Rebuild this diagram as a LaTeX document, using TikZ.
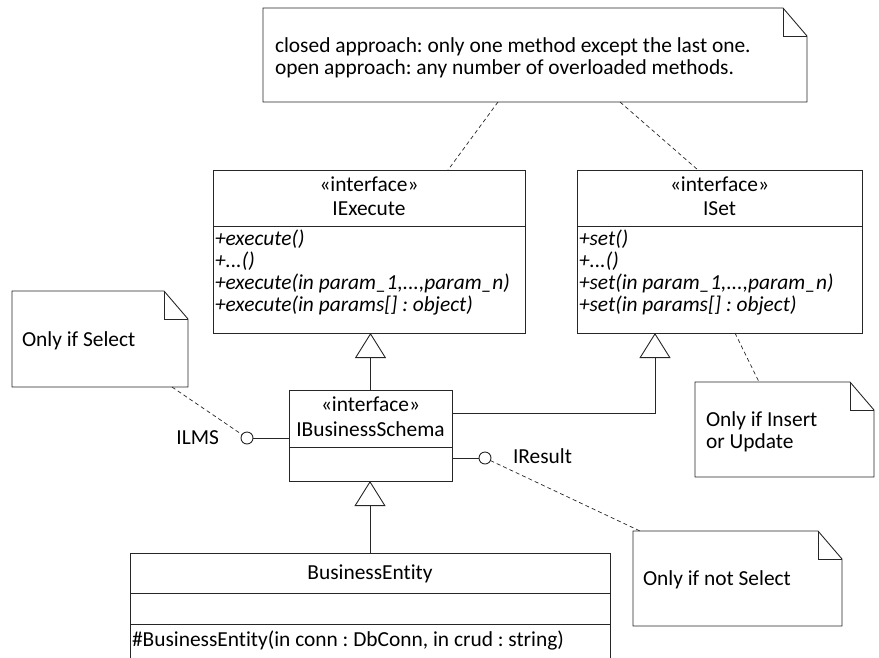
\documentclass[tikz,border=0pt]{standalone}
\usepackage{fontspec}
\setmainfont{Carlito}[Ligatures=NoCommon]
\usetikzlibrary{arrows.meta}
\frenchspacing
% folded-corner outline around a note node
\newcommand\notefold[1]{%
  \draw[line] (#1.north west) -- ([xshift=-24pt]#1.north east)
    -- ([yshift=-28pt]#1.north east) -- (#1.south east)
    -- (#1.south west) -- cycle;
  \draw[line] ([xshift=-24pt]#1.north east) |- ([yshift=-28pt]#1.north east);}
\begin{document}
\begin{tikzpicture}[x=1pt,y=-1pt,
  every node/.style={font=\fontsize{21.4}{22}\selectfont, inner sep=0pt, outer sep=0pt},
  box/.style={draw=black!85, line width=0.9pt, rectangle, anchor=north west},
  notearea/.style={rectangle, anchor=north west},
  txt/.style={anchor=base west, align=left},
  ops/.style={anchor=base west, align=left, font=\fontsize{21.4}{21.7}\selectfont\itshape},
  ctxt/.style={anchor=base, align=center},
  line/.style={draw=black!85, line width=0.9pt},
  dline/.style={draw=black!85, line width=0.7pt, dash pattern=on 4pt off 3pt},
  realize/.style={line, -{Triangle[open, length=25pt, width=31pt, line width=0.9pt]}},
  lolli/.style={circle, draw=black!85, line width=0.9pt, minimum size=12pt, fill=white}]

\clip (0,0) rectangle (879,657);

% ---- top note (multi-line texts are placed by their last baseline)
\node[notearea, minimum width=544pt, minimum height=94pt] (noteTop) at (263,8) {};
\notefold{noteTop}
\node[txt] (noteTopText) at (275,74) {closed approach: only one method except the last one.\\open approach: any number of overloaded methods.};

% ---- IExecute
\node[box, minimum width=312pt, minimum height=56pt] (exeHead) at (213,170) {};
\node[box, minimum width=312pt, minimum height=107pt] (exeOps) at (213,226) {};
\node[ctxt] (exeStereo) at (369,191) {«interface»};
\node[ctxt] (exeName) at (369,215) {IExecute};
\node[ops] (exeMethods) at (215,311) {+execute()\\+...()\\+execute(in param\_1,...,param\_n)\\+execute(in params[] : object)};

% ---- ISet
\node[box, minimum width=285pt, minimum height=56pt] (isetHead) at (577,170) {};
\node[box, minimum width=285pt, minimum height=107pt] (isetOps) at (577,226) {};
\node[ctxt] (isetStereo) at (719.5,191) {«interface»};
\node[ctxt] (isetName) at (719.5,215) {ISet};
\node[ops] (isetMethods) at (579,311) {+set()\\+...()\\+set(in param\_1,...,param\_n)\\+set(in params[] : object)};

% ---- IBusinessSchema
\node[box, minimum width=163pt, minimum height=57pt] (bizHead) at (289,390) {};
\node[box, minimum width=163pt, minimum height=34pt] (bizOps) at (289,447) {};
\node[ctxt] (bizStereo) at (370.5,411) {«interface»};
\node[ctxt] (bizName) at (370.5,436) {IBusinessSchema};

% ---- BusinessEntity
\node[box, minimum width=480pt, minimum height=40pt] (beHead) at (130,553) {};
\node[box, minimum width=480pt, minimum height=31pt] (beAttr) at (130,593) {};
\node[box, minimum width=480pt, minimum height=60pt] (beOps) at (130,624) {};
\node[ctxt] (beName) at (370,579) {BusinessEntity};
\node[txt] (beCtor) at (132,646) {\#BusinessEntity(in conn : DbConn, in crud : string)};

% ---- side notes
\node[notearea, minimum width=176pt, minimum height=96pt] (noteSel) at (12,291) {};
\notefold{noteSel}
\node[txt] (noteSelText) at (22,346) {Only if Select};

\node[notearea, minimum width=179pt, minimum height=95pt] (noteIns) at (695,382) {};
\notefold{noteIns}
\node[txt] (noteInsText) at (706,448) {Only if Insert\\or Update};

\node[notearea, minimum width=209pt, minimum height=95pt] (noteNot) at (633,531) {};
\notefold{noteNot}
\node[txt] (noteNotText) at (643,585) {Only if not Select};

% ---- generalisations
\draw[realize] (bizHead.north) -- (bizHead.north |- exeOps.south);
\draw[realize] (beHead.north) -- (beHead.north |- bizOps.south);
\draw[line] ([yshift=5.5pt]bizHead.east) -| ([xshift=78pt,yshift=-24pt]isetOps.south west) coordinate (isetBase);
\draw[realize] (isetBase) -- ([xshift=78pt]isetOps.south west);

% ---- provided interfaces
\node[lolli] (ilms) at (247,438) {};
\node[anchor=base east] (ilmsLabel) at (219,444) {ILMS};
\draw[line] ([yshift=-19.5pt]bizHead.west) -- (ilms);

\node[lolli] (iresult) at (485,458) {};
\node[anchor=base west] (iresultLabel) at (513,463) {IResult};
\draw[line] ([yshift=6pt]bizOps.east) -- (iresult);

% ---- note anchors
\draw[dline] ([xshift=235pt]noteTop.south west) -- ([xshift=235pt]exeHead.north west);
\draw[dline] ([xshift=357pt]noteTop.south west) -- ([xshift=121pt]isetHead.north west);
\draw[dline] ([xshift=158pt]isetOps.south west) -- ([xshift=64pt]noteIns.north west);
\draw[dline] ([xshift=160pt]noteSel.south west) -- (ilms);
\draw[dline] (iresult) -- ([xshift=7pt]noteNot.north west);

\end{tikzpicture}
\end{document}
